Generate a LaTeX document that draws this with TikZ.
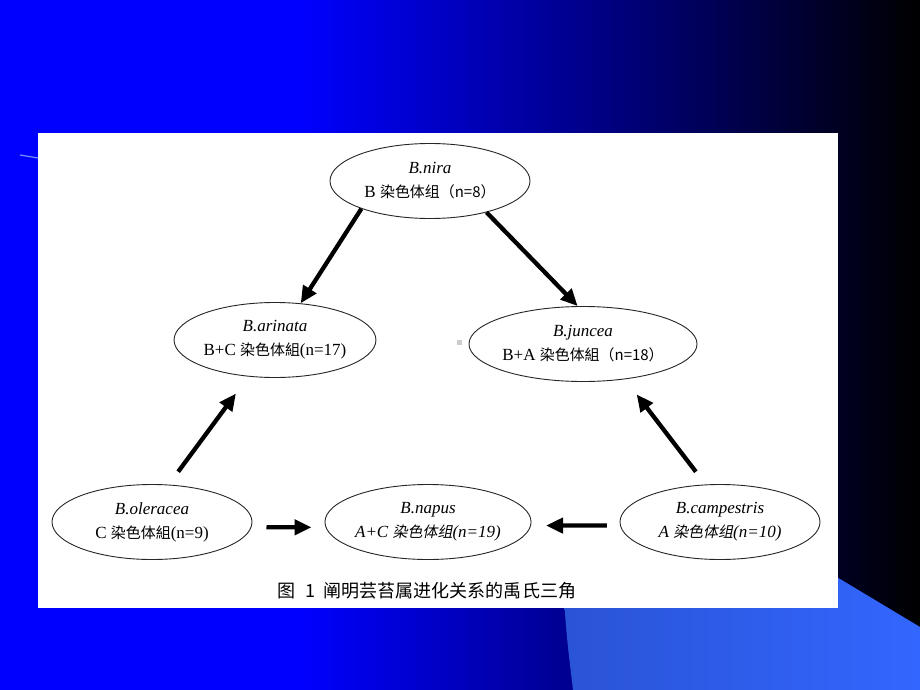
\documentclass[tikz,border=0pt]{standalone}
\usepackage{fontspec}
\setmainfont{Liberation Serif}
\newfontfamily\cjk[Scale=0.88]{Noto Sans CJK SC}
\newfontfamily\cjkit[Scale=0.88,FakeSlant=0.2]{Noto Sans CJK SC}
\usepackage{tikz}
\usetikzlibrary{shapes.geometric, arrows.meta}
\definecolor{slideblue}{RGB}{0,0,255}
\definecolor{wave}{RGB}{51,102,255}
\definecolor{wavedark}{RGB}{42,84,214}

\begin{document}
\begin{tikzpicture}[
            x=1pt, y=-1pt,
            species/.style={ellipse, draw=black!85, line width=0.9pt, minimum width=200pt, minimum height=75pt, inner sep=0pt, align=center, font=\fontsize{17}{24}\selectfont}, % Species ellipse
            cross/.style={line width=4.3pt, -{Triangle[length=17pt,width=15pt]}} % Thick arrow
            ]

                % Slide background
                \useasboundingbox (0,0) rectangle (920,690);
                \fill[slideblue] (0,0) rectangle (301,690);
                \shade[left color=slideblue, right color=black] (300,0) rectangle (920,690);
                \shade[left color=wavedark, right color=wave] (564,600) .. controls (567,640) .. (573,690) -- (920,690) -- (920,627) -- (800,555) -- (564,555) -- cycle;
                \draw[wave!70!white, line width=1.2pt] (20,155) -- (38,158);

                % White panel
                \fill[white] (38,133) rectangle (838,608);
                \fill[black!20] (457,340) rectangle (462,345);

                % Species
                \node[species] (nira) at (430,181) {\textit{B.nira}\\B {\cjk 染色体组（n=8）}};
                \node[species] (arinata) at (275,340) {\textit{B.arinata}\\B+C {\cjk 染色体組}(n=17)};
                \node[species] (juncea) at (583,344) {\textit{B.juncea}\\B+A {\cjk 染色体組（n=18）}};
                \node[species] (oleracea) at (152,522) {\textit{B.oleracea}\\C {\cjk 染色体組}(n=9)};
                \node[species, minimum width=205pt] (napus) at (428,522) {\textit{B.napus}\\\textit{A+C} {\cjkit 染色体组}\textit{(n=19)}};
                \node[species] (campestris) at (720,522) {\textit{B.campestris}\\\textit{A} {\cjkit 染色体组}\textit{(n=10)}};

                % Arrows
                \draw[cross] (nira.202) -- (arinata.55);
                \draw[cross] (nira.331) -- (juncea.98);
                \draw[cross, shorten <=16pt, shorten >=21pt] (oleracea.66) -- (arinata.234);
                \draw[cross, shorten <=16pt, shorten >=19pt] (campestris.111) -- (juncea.320);
                \draw[cross, shorten <=15pt, shorten >=14pt] (oleracea.-3) -- (napus.183);
                \draw[cross, shorten <=13pt, shorten >=15pt] (campestris.182) -- (napus.-2);

                % Caption
                \node[font=\fontsize{20.5}{24}\selectfont\cjk, anchor=west] (caption) at (274,591) {图\hspace{10pt}1\hspace{8pt}阐明芸苔属进化关系的禹氏三角};

            \end{tikzpicture}
\end{document}
